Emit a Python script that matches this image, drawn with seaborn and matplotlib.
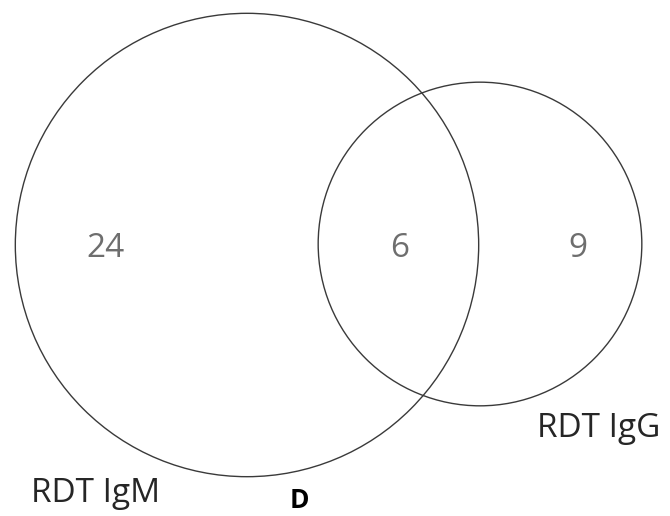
import numpy as np
import seaborn as sns
import matplotlib.pyplot as plt
from matplotlib.patches import Circle

# counts per region
only_igm = 24
both = 6
only_igg = 9
set_names = ["RDT IgM", "RDT IgG"]
panel = "D"

sns.set_theme(style="white")
plt.rcParams['font.family'] = ['Open Sans', 'DejaVu Sans']

fig = plt.figure(figsize=(6.7, 5.16), dpi=100)
ax = fig.add_axes([0, 0, 1, 1])
ax.set_xlim(0, 670)
ax.set_ylim(516, 0)
ax.axis("off")

# circle areas follow set sizes
k = 42.3
r_igm = k * np.sqrt(only_igm + both)
r_igg = k * np.sqrt(only_igg + both) - 2

ax.add_patch(Circle((247, 245), r_igm, fill=False, ec="#3a3a3a", lw=1.0))
ax.add_patch(Circle((480, 244), r_igg, fill=False, ec="#3a3a3a", lw=1.0))

num_style = dict(fontsize=24, color="#6e6e6e", ha="center", va="baseline")
ax.text(106, 257, str(only_igm), **num_style)
ax.text(400, 257, str(both), **num_style)
ax.text(578, 257, str(only_igg), **num_style)

ax.text(96, 502, set_names[0], fontsize=24, color="#262626", ha="center", va="baseline")
ax.text(599, 437, set_names[1], fontsize=24, color="#262626", ha="center", va="baseline")
ax.text(299, 508, panel, fontsize=19, fontweight="bold", color="black", ha="center", va="baseline")

fig.savefig("out.png", dpi=100)
